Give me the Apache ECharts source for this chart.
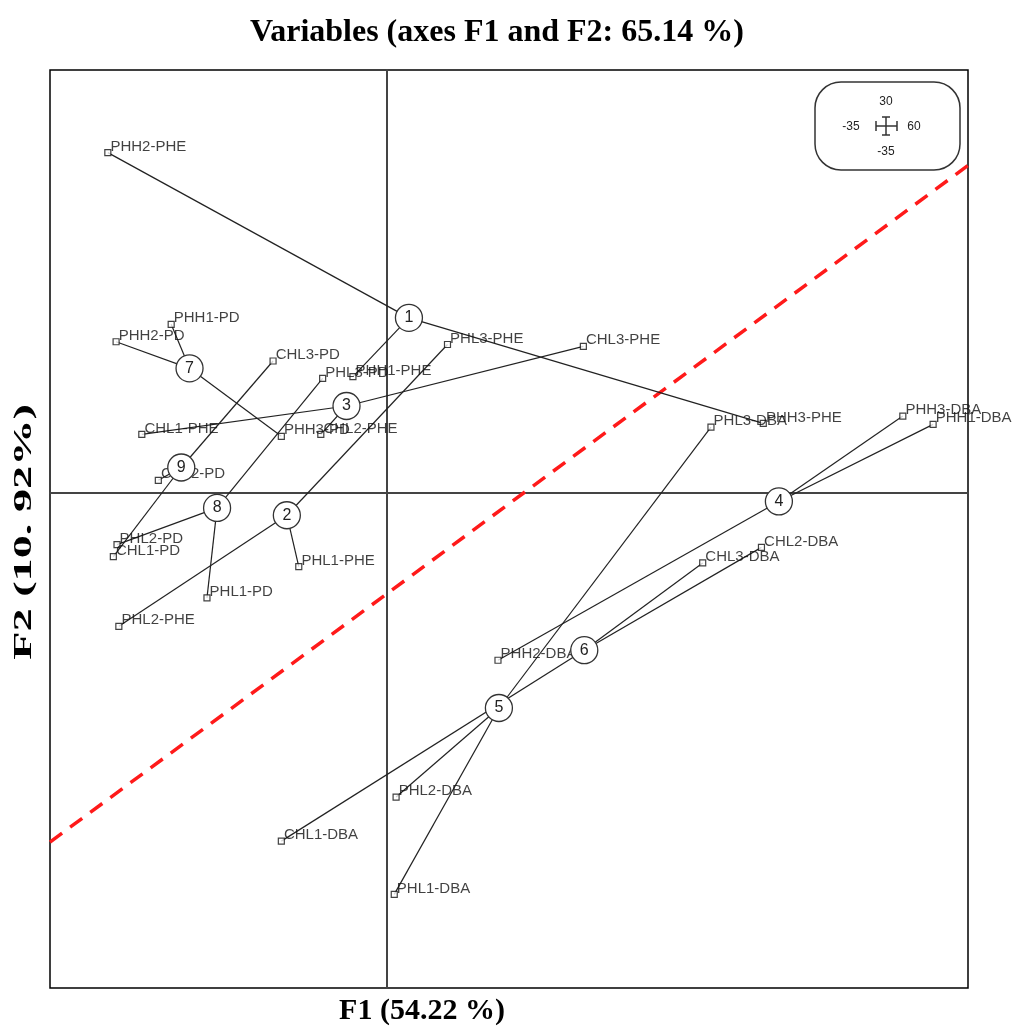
<!DOCTYPE html>
<html>
<head>
<meta charset="utf-8">
<script src="https://cdn.jsdelivr.net/npm/echarts@6/dist/echarts.min.js"></script>
<style>
	html, body { margin: 0; padding: 0; background: #fff; }
	#draw { width: 1014px; height: 1026px; }
</style>
</head>
<body>
<div id="draw"></div>
<script>
// variables, three per group (group n = items 3n..3n+2)
var pointNames = [ 'PHH1-PHE', 'PHH2-PHE', 'PHH3-PHE', 'PHL1-PHE', 'PHL2-PHE', 'PHL3-PHE',
	'CHL1-PHE', 'CHL2-PHE', 'CHL3-PHE', 'PHH1-DBA', 'PHH2-DBA', 'PHH3-DBA',
	'PHL1-DBA', 'PHL2-DBA', 'PHL3-DBA', 'CHL1-DBA', 'CHL2-DBA', 'CHL3-DBA',
	'PHH1-PD', 'PHH2-PD', 'PHH3-PD', 'PHL1-PD', 'PHL2-PD', 'PHL3-PD',
	'CHL1-PD', 'CHL2-PD', 'CHL3-PD' ];
var pointF1 = [ -0.37, -3.04, 4.10, -0.96, -2.92, 0.66,
	-2.67, -0.72, 2.14, 5.95, 1.21, 5.62,
	0.08, 0.10, 3.53, -1.15, 4.08, 3.44,
	-2.35, -2.95, -1.15, -1.96, -2.94, -0.70,
	-2.98, -2.49, -1.24 ];
var pointF2 = [ 1.26, 3.70, 0.75, -0.81, -1.46, 1.61,
	0.63, 0.63, 1.59, 0.74, -1.83, 0.83,
	-4.38, -3.32, 0.71, -3.80, -0.60, -0.77,
	1.83, 1.64, 0.61, -1.15, -0.57, 1.24,
	-0.70, 0.13, 1.43 ];

// numbered group centres
var groupLabels = [ '1', '2', '3', '4', '5', '6', '7', '8', '9' ];
var groupF1 = [ 0.24, -1.09, -0.44, 4.27, 1.22, 2.15, -2.15, -1.85, -2.24 ];
var groupF2 = [ 1.90, -0.25, 0.94, -0.10, -2.35, -1.72, 1.35, -0.17, 0.27 ];

// red dashed separation line
var cutF1 = [ -3.67, 6.33 ];
var cutF2 = [ -3.81, 3.56 ];

var axisF1 = [ -3.67, 6.33 ];
var axisF2 = [ -5.4, 4.6 ];

var myChart = echarts.init(document.getElementById('draw'));

var points = pointNames.map(function(n, i) {
	return { name : n, value : [ pointF1[i], pointF2[i] ] };
});
var centres = groupLabels.map(function(n, i) {
	return { name : n, value : [ groupF1[i], groupF2[i] ] };
});
var links = [];
pointNames.forEach(function(n, i) {
	var g = Math.floor(i / 3);
	links.push({ coords : [ [ groupF1[g], groupF2[g] ], [ pointF1[i], pointF2[i] ] ] });
});

function scaleText(x, y, t) {
	return {
		type : 'text', x : x, y : y,
		style : { text : t, fontFamily : 'Liberation Sans', fontSize : 12, fill : '#222', align : 'center', verticalAlign : 'middle' }
	};
}
function seg(p) {
	return { type : 'polyline', shape : { points : p }, style : { stroke : '#333', lineWidth : 1.5 } };
}

var option = {
	animation : false,
	title : {
		text : 'Variables (axes F1 and F2: 65.14 %)',
		left : 245,
		top : 12,
		textStyle : {
			fontFamily : 'Liberation Serif',
			fontWeight : 'bold',
			fontSize : 32,
			color : '#000'
		}
	},
	grid : {
		left : 50,
		top : 70,
		width : 918,
		height : 918,
		show : true,
		borderColor : '#000',
		borderWidth : 1.5,
		backgroundColor : '#fff'
	},
	xAxis : {
		type : 'value',
		min : axisF1[0],
		max : axisF1[1],
		splitLine : { show : false },
		axisTick : { show : false },
		axisLabel : { show : false },
		axisLine : { show : true, onZero : true, lineStyle : { color : '#444', width : 2 } }
	},
	yAxis : {
		type : 'value',
		min : axisF2[0],
		max : axisF2[1],
		splitLine : { show : false },
		axisTick : { show : false },
		axisLabel : { show : false },
		axisLine : { show : true, onZero : true, lineStyle : { color : '#444', width : 2 } }
	},
	graphic : [ {
		type : 'text',
		x : 422,
		y : 1011,
		style : {
			text : 'F1 (54.22 %)',
			fontFamily : 'Liberation Serif',
			fontWeight : 'bold',
			fontSize : 30,
			fill : '#000',
			align : 'center',
			verticalAlign : 'middle'
		}
	}, {
		type : 'text',
		x : 25,
		y : 532,
		rotation : Math.PI / 2,
		scaleX : 1.85,
		style : {
			text : 'F2 (10. 92%)',
			fontFamily : 'Liberation Serif',
			fontWeight : 'bold',
			fontSize : 25,
			fill : '#000',
			align : 'center',
			verticalAlign : 'middle'
		}
	}, {
		type : 'group',
		children : [ {
			type : 'rect',
			shape : { x : 815, y : 82, width : 145, height : 88, r : 26 },
			style : { fill : '#fff', stroke : '#333', lineWidth : 1.5 }
		},
		seg([ [ 876, 126 ], [ 897, 126 ] ]),
		seg([ [ 886, 117 ], [ 886, 135 ] ]),
		seg([ [ 876, 121 ], [ 876, 131 ] ]),
		seg([ [ 897, 121 ], [ 897, 131 ] ]),
		seg([ [ 882, 117 ], [ 890, 117 ] ]),
		seg([ [ 882, 135 ], [ 890, 135 ] ]),
		scaleText(886, 102, '30'),
		scaleText(886, 152, '-35'),
		scaleText(851, 127, '-35'),
		scaleText(914, 127, '60') ]
	} ],
	series : [ {
		name : 'cut',
		type : 'line',
		data : [ [ cutF1[0], cutF2[0] ], [ cutF1[1], cutF2[1] ] ],
		symbol : 'none',
		z : 1,
		lineStyle : { color : '#ff1a1a', width : 3.5, type : [ 15, 10 ] }
	}, {
		name : 'links',
		type : 'lines',
		coordinateSystem : 'cartesian2d',
		data : links,
		z : 2,
		lineStyle : { color : '#222', width : 1.2, opacity : 1 }
	}, {
		name : 'variables',
		type : 'scatter',
		data : points,
		symbol : 'rect',
		symbolSize : 6,
		z : 3,
		itemStyle : { color : '#fff', borderColor : '#111', borderWidth : 1.2 },
		label : {
			show : true,
			position : 'right',
			distance : -1,
			offset : [ 0, -6 ],
			formatter : '{b}',
			fontFamily : 'Liberation Sans',
			fontSize : 15,
			color : '#111'
		}
	}, {
		name : 'groups',
		type : 'scatter',
		data : centres,
		symbol : 'circle',
		symbolSize : 27,
		z : 4,
		itemStyle : { color : '#fff', borderColor : '#333', borderWidth : 1.3, opacity : 1 },
		label : {
			show : true,
			position : 'inside',
			formatter : '{b}',
			fontFamily : 'Liberation Sans',
			fontSize : 16,
			color : '#222'
		}
	} ]
};
myChart.setOption(option);
</script>
</body>
</html>
